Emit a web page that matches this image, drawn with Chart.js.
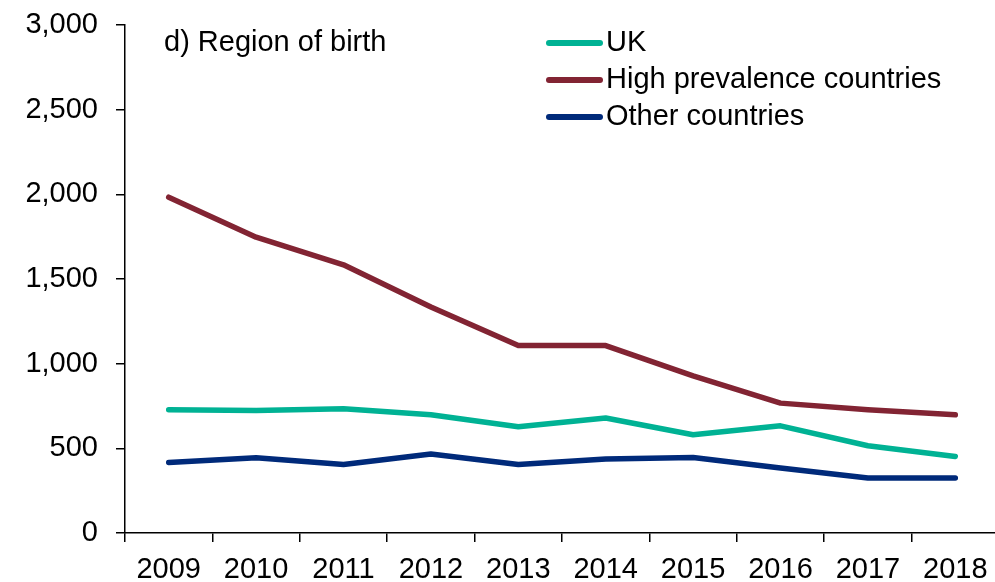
<!DOCTYPE html>
<html>
<head>
<meta charset="utf-8">
<script src="https://cdn.jsdelivr.net/npm/chart.js@4"></script>
<style>
  html, body { margin: 0; padding: 0; background: #fff; overflow: hidden; }
  #wrap { width: 1000px; height: 582px; }
</style>
</head>
<body>
<div id="wrap"><canvas id="myChart"></canvas></div>
<script>
// Kategorier og verdier lest av figuren
const years = ["2009", "2010", "2011", "2012", "2013", "2014", "2015", "2016", "2017", "2018"];
const uk = [728, 724, 734, 698, 627, 679, 580, 633, 515, 452];
const highPrevalence = [1983, 1747, 1584, 1335, 1107, 1107, 928, 767, 728, 698];
const otherCountries = [417, 444, 405, 466, 405, 437, 446, 384, 325, 325];
const yTicks = [0, 500, 1000, 1500, 2000, 2500, 3000];

const seriesNames = ["UK", "High prevalence countries", "Other countries"];
const seriesColors = ["#00B294", "#822433", "#002A7A"];

const fontFamily = "'Liberation Sans', Arial, sans-serif";
Chart.defaults.font.family = fontFamily;
Chart.defaults.font.size = 29;
Chart.defaults.color = "#000";

// Tegner tittel og forklaring inne i plottet
const legendPlugin = {
  id: "insideLegend",
  afterDraw(chart) {
    const c = chart.ctx;
    c.save();
    c.font = "29px " + fontFamily;
    c.fillStyle = "#000";
    c.textBaseline = "middle";
    c.textAlign = "left";
    c.fillText("d) Region of birth", 164, 43);
    chart.data.datasets.forEach((ds, i) => {
      const y = 43 + i * 37;
      c.strokeStyle = ds.borderColor;
      c.lineWidth = 6;
      c.lineCap = "round";
      c.beginPath();
      c.moveTo(549, y);
      c.lineTo(600, y);
      c.stroke();
      c.fillText(ds.label, 606, y);
    });
    c.restore();
  }
};

const ctx = document.getElementById("myChart").getContext("2d");

const chart = new Chart(ctx, {
  type: "line",
  data: {
    labels: years,
    datasets: [uk, highPrevalence, otherCountries].map((d, i) => ({
      label: seriesNames[i],
      data: d,
      borderColor: seriesColors[i],
      backgroundColor: seriesColors[i],
      borderWidth: 5.5,
      borderCapStyle: "round",
      borderJoinStyle: "round",
      pointRadius: 0,
      tension: 0
    }))
  },
  options: {
    responsive: true,
    maintainAspectRatio: false,
    animation: false,
    layout: { padding: { top: 25, right: 1, left: 0, bottom: 0 } },
    plugins: {
      legend: { display: false },
      tooltip: { enabled: false }
    },
    scales: {
      x: {
        offset: true,
        grid: { offset: true, drawOnChartArea: false, drawTicks: true, tickLength: 9, color: "#000", lineWidth: 1.5 },
        border: { color: "#000", width: 1.5 },
        ticks: { padding: 11, maxRotation: 0, autoSkip: false },
        afterFit(scale) {
          scale.height = 49;
          scale.paddingLeft = 0;
          scale.paddingRight = 0;
        }
      },
      y: {
        min: 0,
        max: 3000,
        afterBuildTicks(scale) { scale.ticks = yTicks.map(v => ({ value: v })); },
        grid: { drawOnChartArea: false, drawTicks: true, tickLength: 9, color: "#000", lineWidth: 1.5 },
        border: { color: "#000", width: 1.5 },
        ticks: { padding: 18 },
        afterFit(scale) {
          scale.width = 125;
          scale.paddingTop = 0;
          scale.paddingBottom = 0;
        }
      }
    }
  },
  plugins: [legendPlugin]
});
</script>
</body>
</html>
